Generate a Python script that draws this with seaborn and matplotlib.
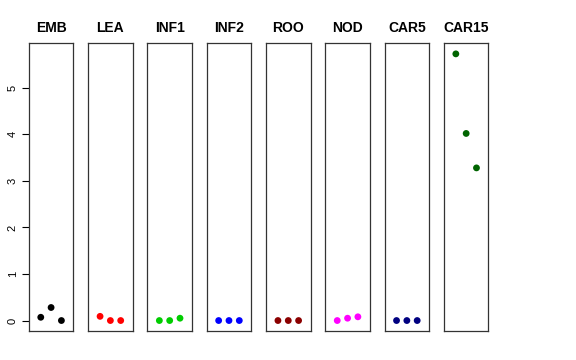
import pandas as pd
import matplotlib
matplotlib.use("Agg")
import matplotlib.pyplot as plt
import seaborn as sns

# tissues and the three replicate values
tissues = ["EMB", "LEA", "INF1", "INF2", "ROO", "NOD", "CAR5", "CAR15"]
replicate = [1, 2, 3]
emb = [0.07, 0.28, 0.0]
lea = [0.09, 0.0, 0.0]
inf1 = [0.0, 0.0, 0.05]
inf2 = [0.0, 0.0, 0.0]
roo = [0.0, 0.0, 0.0]
nod = [0.0, 0.05, 0.08]
car5 = [0.0, 0.0, 0.0]
car15 = [5.73, 4.02, 3.28]
colors = ["black", "red", "#00CD00", "blue", "#8B0000", "magenta", "#000080", "#006400"]

values = [emb, lea, inf1, inf2, roo, nod, car5, car15]
df = pd.DataFrame({
    "tissue": [t for t in tissues for _ in replicate],
    "rep": replicate * len(tissues),
    "value": [v for vals in values for v in vals],
})

sns.set_style("white")
plt.rcParams["font.family"] = ["Liberation Sans", "DejaVu Sans"]
plt.rcParams["text.color"] = "black"
plt.rcParams["ytick.color"] = "black"
plt.rcParams["axes.labelcolor"] = "black"

fig, axes = plt.subplots(1, len(tissues), figsize=(5.76, 3.6), dpi=100, sharey=True)
fig.subplots_adjust(left=0.050, right=0.848, top=0.880, bottom=0.080, wspace=0.33)

ymax = max(car15)
for i, (ax, t) in enumerate(zip(axes, tissues)):
    sub = df[df["tissue"] == t]
    sns.scatterplot(data=sub, x="rep", y="value", color=colors[i], s=24,
                    edgecolor="none", ax=ax, legend=False)
    ax.set_xlim(-0.16, 4.16)
    ax.set_ylim(-0.04 * ymax, 1.04 * ymax)
    ax.set_title(t, fontsize=10, fontweight="bold", pad=8, color="black")
    ax.set_xlabel("")
    ax.set_ylabel("")
    ax.set_xticks([])
    for sp in ax.spines.values():
        sp.set_visible(True)
        sp.set_color("#333333")
        sp.set_linewidth(0.9)
    if i == 0:
        ax.set_yticks([0, 1, 2, 3, 4, 5])
        ax.tick_params(axis="y", left=True, length=5, width=0.8, labelsize=8,
                       labelrotation=90, pad=3, colors="black")
        for lab in ax.get_yticklabels():
            lab.set_va("center")
    else:
        ax.tick_params(axis="y", left=False, labelleft=False)

fig.savefig("out.png", dpi=100)
